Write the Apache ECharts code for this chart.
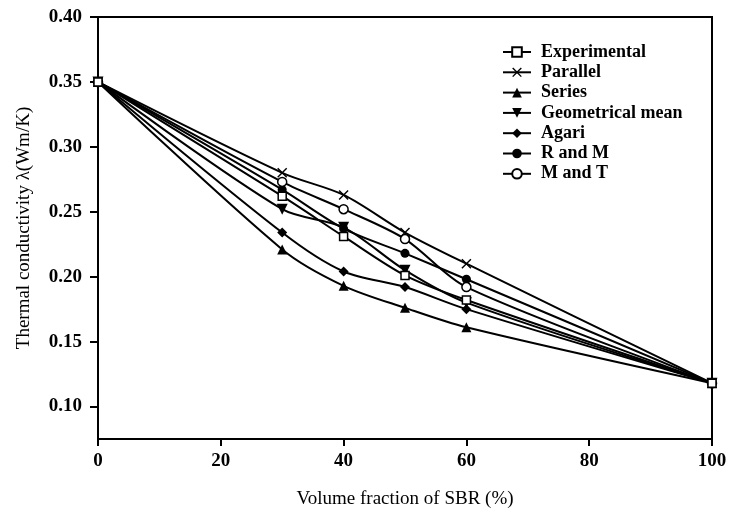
<!DOCTYPE html>
<html><head><meta charset="utf-8">
<script src="https://cdn.jsdelivr.net/npm/echarts@6/dist/echarts.min.js"></script>
<style>html,body{margin:0;padding:0;background:#fff}#c{width:730px;height:514px}</style>
</head><body><div id="c"></div>
<script>
const xValues = [0, 30, 40, 50, 60, 100];
const experimental = [0.350, 0.262, 0.231, 0.201, 0.182, 0.118];
const parallel     = [0.350, 0.280, 0.263, 0.234, 0.210, 0.118];
const seriesModel  = [0.350, 0.221, 0.193, 0.176, 0.161, 0.118];
const geoMean      = [0.350, 0.252, 0.238, 0.205, 0.180, 0.118];
const agari        = [0.350, 0.234, 0.204, 0.192, 0.175, 0.118];
const rAndM        = [0.350, 0.267, 0.237, 0.218, 0.198, 0.118];
const mAndT        = [0.350, 0.273, 0.252, 0.229, 0.192, 0.118];
const yTicks = [0.10, 0.15, 0.20, 0.25, 0.30, 0.35, 0.40];
const xTicks = [0, 20, 40, 60, 80, 100];

const font = '"Liberation Serif", "DejaVu Serif", serif';
const crossPath = 'path://M0,1L1,0L5,4L9,0L10,1L6,5L10,9L9,10L5,6L1,10L0,9L4,5Z';
function pts(arr){ return xValues.map((x,i)=>[x, arr[i]]); }
function mk(name, arr, symbol, size, fill, extra){
  return Object.assign({
    name, type:'line', data: pts(arr), symbol, symbolSize: size, smooth: 0.3,
    lineStyle:{color:'#000', width:2},
    itemStyle:{color: fill, borderColor:'#000', borderWidth: fill === '#fff' ? 1.5 : 0},
    emphasis:{disabled:true}
  }, extra || {});
}
const chart = echarts.init(document.getElementById('c'), null, {renderer:'canvas'});
chart.setOption({
  animation:false,
  backgroundColor:'#fff',
  grid:{left:98, right:18, top:17, bottom:75, outerBoundsMode:'none', containLabel:false,
    show:true, borderColor:'#000', borderWidth:2, backgroundColor:'transparent'},
  legend:{
    orient:'vertical', left:497, top:38, itemWidth:28, itemHeight:12, itemGap:2.3,
    textStyle:{fontFamily:font, fontSize:18, fontWeight:'bold', color:'#000', lineHeight:18, padding:[0,0,0,5]},
    data:['Experimental','Parallel','Series','Geometrical mean','Agari','R and M','M and T']
  },
  xAxis:{
    type:'value', min:0, max:100, interval:20,
    name:'Volume fraction of SBR (%)', nameLocation:'middle', nameGap:51,
    nameTextStyle:{fontFamily:font, fontSize:19, color:'#000'},
    axisLine:{lineStyle:{color:'#000', width:2}},
    axisTick:{show:true, inside:false, length:7, lineStyle:{color:'#000', width:2}, customValues: xTicks},
    axisLabel:{fontFamily:font, fontSize:19, fontWeight:'bold', color:'#000', margin:13, customValues: xTicks},
    splitLine:{show:false}
  },
  yAxis:{
    type:'value', min:0.075, max:0.40,
    name:'Thermal conductivity λ(Wm/K)', nameLocation:'middle', nameGap:64,
    nameTextStyle:{fontFamily:font, fontSize:19, color:'#000'},
    axisLine:{lineStyle:{color:'#000', width:2}},
    axisTick:{show:true, inside:false, length:8, lineStyle:{color:'#000', width:2}, customValues: yTicks},
    axisLabel:{fontFamily:font, fontSize:19, fontWeight:'bold', color:'#000', margin:16, customValues: yTicks,
      formatter: v => v.toFixed(2)},
    splitLine:{show:false}
  },
  series:[
    mk('Experimental', experimental, 'rect', 8, '#fff', {z:10}),
    mk('Parallel', parallel, crossPath, 10, '#000'),
    mk('Series', seriesModel, 'triangle', 10, '#000'),
    mk('Geometrical mean', geoMean, 'triangle', 11, '#000', {symbolRotate:180}),
    mk('Agari', agari, 'diamond', 10, '#000'),
    mk('R and M', rAndM, 'circle', 9, '#000'),
    mk('M and T', mAndT, 'circle', 9, '#fff')
  ]
});
</script></body></html>
